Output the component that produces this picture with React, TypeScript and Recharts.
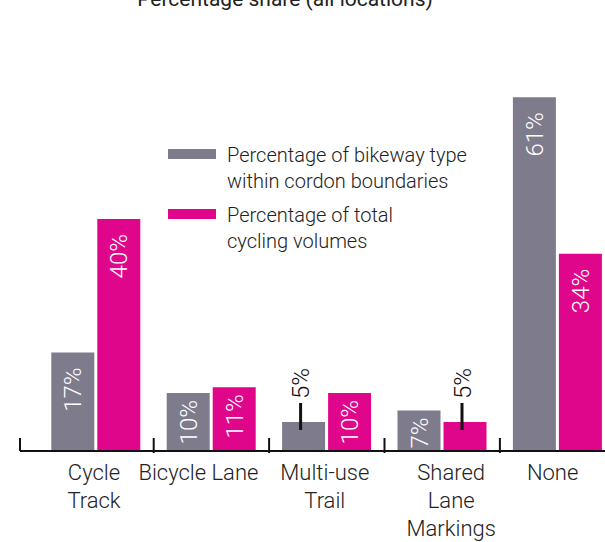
import React from 'react';
import { BarChart, Bar, XAxis, YAxis, Legend, LabelList } from 'recharts';

const categories = ['Cycle\nTrack', 'Bicycle Lane', 'Multi-use\nTrail', 'Shared\nLane\nMarkings', 'None'];
const bikewayShare = [17, 10, 5, 7, 61];
const volumeShare = [40, 11, 10, 5, 34];
const seriesNames = [
  'Percentage of bikeway type\nwithin cordon boundaries',
  'Percentage of total\ncycling volumes',
];
const title = 'Percentage share (all locations)';

// horizontal nudge of each category label, as in the original layout
const labelNudge = [-2, -13, -2, 9, -5];

const GRAY = '#7e7b8c';
const MAGENTA = '#e0068b';
const INK = '#222';
const FONT = 'Roboto, "Noto Sans", sans-serif';
const PAD_LEFT = 18.3;

const data = categories.map((category, i) => ({
  category,
  bikeway: bikewayShare[i],
  volume: volumeShare[i],
}));

const renderBarLabel = (props: any) => {
  const { x, y, width, height, value } = props;
  const cx = Number(x) + Number(width) / 2;
  const top = Number(y);
  if (value < 6) {
    // small bars: label sits above with a leader line
    const lx = cx - 3;
    return (
      <g>
        <line x1={lx} x2={lx} y1={top - 19} y2={top + 8} stroke="#111" strokeWidth={3} />
        <text
          transform={`translate(${lx + 8.5},${top - 23}) rotate(-90)`}
          textAnchor="start"
          fill="#111"
          fontSize={24}
          fontWeight={300}
          fontFamily={FONT}
        >
          {value}%
        </text>
      </g>
    );
  }
  const off = Number(height) > 80 ? 15 : 7;
  return (
    <text
      transform={`translate(${cx + 8.5},${top + off}) rotate(-90)`}
      textAnchor="end"
      fill="#fff"
      fontSize={24}
      fontWeight={300}
      fontFamily={FONT}
    >
      {value}%
    </text>
  );
};

const renderTick = (props: any) => {
  const { x, y, payload, index } = props;
  const half = payload.offset ?? 57.7;
  const bx = index === 0 ? x - half - PAD_LEFT : x - half;
  const lines = String(payload.value).split('\n');
  const tx = x + (labelNudge[index] ?? 0);
  return (
    <g>
      <line x1={bx} x2={bx} y1={y - 13} y2={index === 0 ? y : y + 2} stroke="#111" strokeWidth={2} />
      <text x={tx} y={y + 29} textAnchor="middle" fill={INK} fontSize={22} fontWeight={300} fontFamily={FONT}>
        {lines.map((l, i) => (
          <tspan key={i} x={tx} dy={i === 0 ? 0 : 28}>
            {l}
          </tspan>
        ))}
      </text>
    </g>
  );
};

const renderLegend = (props: any) => {
  const items = props.payload || [];
  return (
    <div style={{ fontFamily: FONT, fontSize: 20, fontWeight: 300, lineHeight: '26px', color: INK }}>
      {items.map((it: any, i: number) => (
        <div key={i} style={{ display: 'flex', alignItems: 'flex-start', marginBottom: 8 }}>
          <div style={{ width: 48, height: 10, background: it.color, marginTop: 7, marginRight: 11 }} />
          <div>
            {String(it.value)
              .split('\n')
              .map((l, j) => (
                <div key={j} style={{ whiteSpace: 'nowrap' }}>{l}</div>
              ))}
          </div>
        </div>
      ))}
    </div>
  );
};

export default function App() {
  return (
    <div
      style={{
        position: 'absolute',
        left: 0,
        top: 0,
        width: 605,
        height: 542,
        overflow: 'hidden',
        background: '#fff',
      }}
    >
      <svg width={605} height={20} style={{ position: 'absolute', left: 0, top: 0 }}>
        <text x={285} y={6} textAnchor="middle" fill={INK} fontSize={21} fontFamily={FONT}>
          {title}
        </text>
      </svg>
      <BarChart
        width={640}
        height={542}
        data={data}
        margin={{ top: 45, right: 24.7, bottom: 0, left: 20 }}
        barSize={43}
        barGap={3}
      >
        <XAxis
          dataKey="category"
          height={91}
          interval={0}
          padding={{ left: PAD_LEFT, right: 0 }}
          axisLine={{ stroke: '#111', strokeWidth: 2 }}
          tickLine={false}
          tickSize={0}
          tickMargin={0}
          tick={renderTick}
        />
        <YAxis hide domain={[0, 70]} />
        <Legend
          layout="vertical"
          align="center"
          verticalAlign="middle"
          content={renderLegend}
          wrapperStyle={{ left: 168, top: 142, width: 320 }}
        />
        <Bar dataKey="bikeway" name={seriesNames[0]} fill={GRAY} isAnimationActive={false}>
          <LabelList dataKey="bikeway" content={renderBarLabel} />
        </Bar>
        <Bar dataKey="volume" name={seriesNames[1]} fill={MAGENTA} isAnimationActive={false}>
          <LabelList dataKey="volume" content={renderBarLabel} />
        </Bar>
      </BarChart>
    </div>
  );
}
